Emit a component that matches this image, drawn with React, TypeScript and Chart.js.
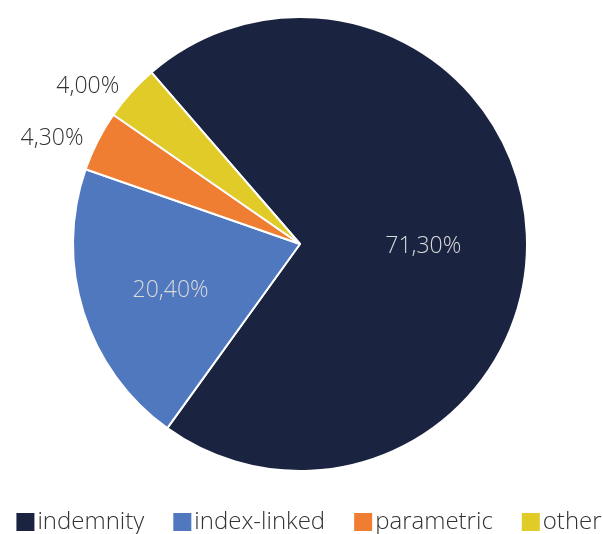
import React, { useEffect, useRef } from "react";
import { Chart, registerables } from "chart.js";

Chart.register(...registerables);

const categories = ["indemnity", "index-linked", "parametric", "other"];
const values = [71.3, 20.4, 4.3, 4.0];
const valueLabels = ["71,30%", "20,40%", "4,30%", "4,00%"];
const colors = ["#1a2340", "#4f78bf", "#ef7d32", "#e0cb28"];

const FONT = "'Open Sans', 'Noto Sans', sans-serif";

const labelPlugin = {
  id: "sliceLabels",
  afterDatasetsDraw(chart: any) {
    const ctx = chart.ctx;
    const meta = chart.getDatasetMeta(0);
    const total = values.reduce((a, b) => a + b, 0);
    ctx.save();
    ctx.font = `300 23px ${FONT}`;
    ctx.textBaseline = "middle";
    meta.data.forEach((arc: any, i: number) => {
      const { x, y, startAngle, endAngle, outerRadius } = arc.getProps(
        ["x", "y", "startAngle", "endAngle", "outerRadius"],
        true
      );
      const mid = (startAngle + endAngle) / 2;
      const inside = values[i] / total > 0.1;
      if (inside) {
        const r = outerRadius * 0.57;
        ctx.fillStyle = "#dadada";
        ctx.textAlign = "center";
        ctx.fillText(valueLabels[i], x + Math.cos(mid) * r - 6, y + Math.sin(mid) * r + 8);
      } else {
        const r = outerRadius * 1.07;
        const px = x + Math.cos(mid) * r;
        ctx.fillStyle = "#333333";
        ctx.textAlign = Math.cos(mid) < 0 ? "right" : "left";
        ctx.fillText(valueLabels[i], px, y + Math.sin(mid) * r + 5);
      }
    });
    ctx.restore();
  },
};

const legendPlugin = {
  id: "bottomLegend",
  afterDraw(chart: any) {
    const ctx = chart.ctx;
    ctx.save();
    ctx.font = `300 24px ${FONT}`;
    ctx.textBaseline = "middle";
    ctx.textAlign = "left";
    const box = 18;
    const gapText = 3;
    const gapItem = 29;
    const widths = categories.map((c) => ctx.measureText(c).width);
    const total =
      widths.reduce((a, w) => a + box + gapText + w, 0) + gapItem * (categories.length - 1);
    let x = 309 - total / 2;
    const yc = 522;
    categories.forEach((c, i) => {
      ctx.fillStyle = colors[i];
      ctx.fillRect(x, yc - box / 2, box, box);
      x += box + gapText;
      ctx.fillStyle = "#333333";
      ctx.fillText(c, x, yc);
      x += widths[i] + gapItem;
    });
    ctx.restore();
  },
};

export default function App() {
  const ref = useRef<HTMLCanvasElement>(null);
  useEffect(() => {
    document.body.style.margin = "0";
    const chart = new Chart(ref.current!, {
      type: "pie",
      data: {
        labels: categories,
        datasets: [
          {
            data: values,
            backgroundColor: colors,
            borderColor: "#ffffff",
            borderWidth: 2,
          },
        ],
      },
      options: {
        animation: false,
        responsive: false,
        rotation: -40.9,
        layout: { padding: { top: 16, bottom: 62, left: 0, right: 3 } },
        plugins: {
          legend: { display: false },
          tooltip: { enabled: false },
        },
      },
      plugins: [labelPlugin, legendPlugin],
    });
    return () => chart.destroy();
  }, []);
  return (
    <div style={{ position: "absolute", left: 0, top: 0, width: 603, height: 534 }}>
      <canvas ref={ref} width={603} height={534} />
    </div>
  );
}
